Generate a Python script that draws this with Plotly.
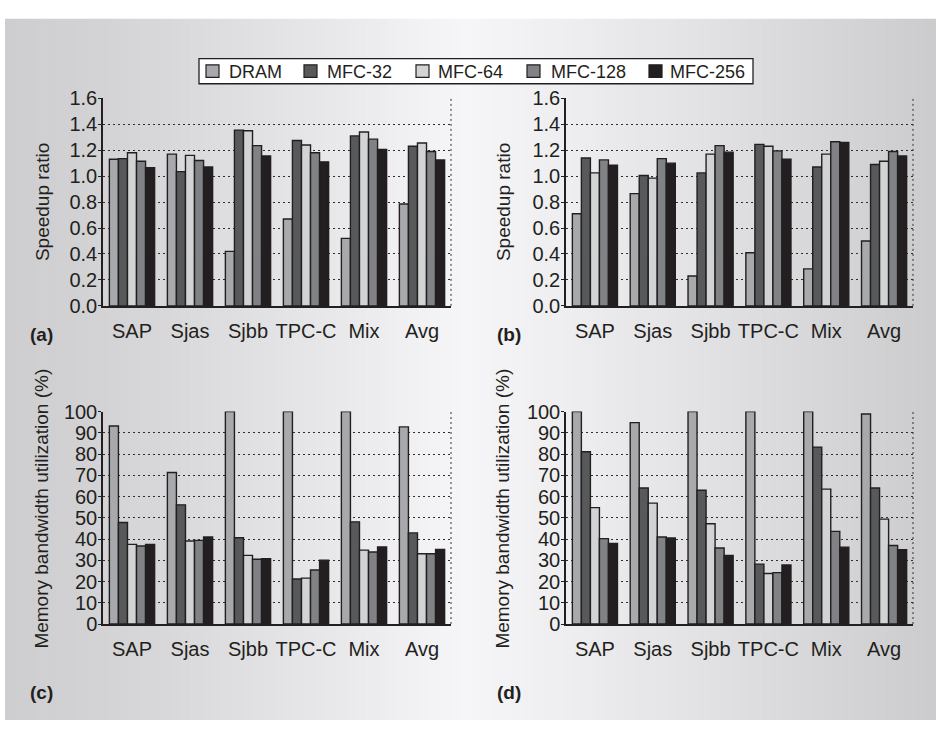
import plotly.graph_objects as go

W, H = 936, 733

categories = ["SAP", "Sjas", "Sjbb", "TPC-C", "Mix", "Avg"]
series_names = ["DRAM", "MFC-32", "MFC-64", "MFC-128", "MFC-256"]

# (a) Speedup ratio
a_dram   = [1.13, 1.17, 0.42, 0.67, 0.52, 0.785]
a_mfc32  = [1.135, 1.035, 1.355, 1.275, 1.31, 1.23]
a_mfc64  = [1.18, 1.16, 1.35, 1.24, 1.34, 1.255]
a_mfc128 = [1.115, 1.12, 1.235, 1.18, 1.285, 1.19]
a_mfc256 = [1.065, 1.07, 1.155, 1.11, 1.205, 1.125]

# (b) Speedup ratio
b_dram   = [0.71, 0.865, 0.23, 0.41, 0.285, 0.50]
b_mfc32  = [1.14, 1.005, 1.025, 1.245, 1.07, 1.09]
b_mfc64  = [1.025, 0.985, 1.17, 1.23, 1.17, 1.115]
b_mfc128 = [1.125, 1.135, 1.235, 1.195, 1.265, 1.19]
b_mfc256 = [1.085, 1.10, 1.185, 1.13, 1.26, 1.155]

# (c) Memory bandwidth utilization (%)
c_dram   = [93.2, 71.3, 100, 100, 100, 92.8]
c_mfc32  = [47.8, 56.1, 40.6, 21.2, 48.1, 42.9]
c_mfc64  = [37.5, 39.1, 32.3, 21.6, 34.8, 33.1]
c_mfc128 = [36.7, 39.4, 30.5, 25.4, 33.9, 33.1]
c_mfc256 = [37.5, 41.0, 30.7, 30.1, 36.3, 35.1]

# (d) Memory bandwidth utilization (%)
d_dram   = [100, 94.8, 100, 100, 100, 98.9]
d_mfc32  = [81.1, 64.0, 63.0, 28.2, 83.3, 64.0]
d_mfc64  = [54.8, 56.9, 47.2, 23.8, 63.5, 49.4]
d_mfc128 = [40.2, 41.0, 35.8, 24.2, 43.6, 37.0]
d_mfc256 = [37.9, 40.5, 32.3, 27.8, 36.2, 35.0]

colors = ["#a7a9ac", "#58595b", "#d1d3d4", "#808285", "#231f20"]
edge = "#231f20"
FONT = "Liberation Sans, Arial, sans-serif"

panels = [
    ([a_dram, a_mfc32, a_mfc64, a_mfc128, a_mfc256], "x", "y"),
    ([b_dram, b_mfc32, b_mfc64, b_mfc128, b_mfc256], "x2", "y2"),
    ([c_dram, c_mfc32, c_mfc64, c_mfc128, c_mfc256], "x3", "y3"),
    ([d_dram, d_mfc32, d_mfc64, d_mfc128, d_mfc256], "x4", "y4"),
]

def px(x):
    return x / W

def py(y):
    return 1 - y / H

fig = go.Figure()
for pi, (vals, xa, ya) in enumerate(panels):
    for si, name in enumerate(series_names):
        fig.add_trace(go.Bar(
            x=categories, y=vals[si], name=name, xaxis=xa, yaxis=ya,
            marker=dict(color=colors[si], line=dict(color=edge, width=1.4)),
            legendgroup=name, showlegend=False,
        ))

# geometry (pixels)
XL = (103, 451)
XR = (566, 913)
YT = (90, 304)
YB = (413, 632)

def xdom(r):
    return [px(r[0]), px(r[1])]

def ydom(r):
    return [py(r[1]), py(r[0])]

tickfont = dict(family=FONT, size=20, color=edge)
common_x = dict(showline=True, linecolor=edge, linewidth=1.5, showgrid=False,
                ticks="outside", ticklen=6, tickcolor="rgba(0,0,0,0)",
                tickfont=tickfont, fixedrange=True)
common_y = dict(showline=True, linecolor=edge, linewidth=1.5, showgrid=True,
                gridcolor="#2e2e2e", gridwidth=1, griddash="2px,3px",
                ticks="outside", ticklen=3, tickcolor=edge, tickwidth=1,
                ticklabelstandoff=-3,
                tickfont=tickfont, zeroline=False, fixedrange=True)

layout = dict(
    width=W, height=H, margin=dict(l=0, r=0, t=0, b=0),
    paper_bgcolor="white", plot_bgcolor="white",
    barmode="group", bargap=0.22, bargroupgap=0,
    font=dict(family=FONT, color=edge),
    showlegend=False,
    xaxis=dict(domain=xdom(XL), anchor="y", **common_x),
    yaxis=dict(domain=ydom(YT), anchor="x", range=[0, 1.6], tickvals=[0, 0.2, 0.4, 0.6, 0.8, 1.0, 1.2, 1.4, 1.6],
               tickformat=".1f", **common_y),
    xaxis2=dict(domain=xdom(XR), anchor="y2", **common_x),
    yaxis2=dict(domain=ydom(YT), anchor="x2", range=[0, 1.6], tickvals=[0, 0.2, 0.4, 0.6, 0.8, 1.0, 1.2, 1.4, 1.6],
                tickformat=".1f", **common_y),
    xaxis3=dict(domain=xdom(XL), anchor="y3", **common_x),
    yaxis3=dict(domain=ydom(YB), anchor="x3", range=[0, 100], dtick=10, **common_y),
    xaxis4=dict(domain=xdom(XR), anchor="y4", **common_x),
    yaxis4=dict(domain=ydom(YB), anchor="x4", range=[0, 100], dtick=10, **common_y),
)

shapes = []
# background gradient (horizontal)
N = 90
x0, x1 = 5, W
for i in range(N):
    xa = x0 + (x1 - x0) * i / N
    xb = x0 + (x1 - x0) * (i + 1) / N + 0.6
    t = (xa + xb) / 2
    if t < 460:
        f = (t - 5) / (460 - 5)
        v = 206 + (246 - 206) * (f ** 1.3)
    else:
        f = (t - 460) / (W - 460)
        v = 246 - (246 - 204) * (f ** 1.1)
    v = int(round(v))
    shapes.append(dict(type="rect", xref="paper", yref="paper",
                       x0=px(xa), x1=px(min(xb, W)), y0=py(731), y1=py(8),
                       fillcolor=f"rgb({v},{v},{v+2})", line=dict(width=0), layer="below"))
# dotted right borders
for xr, yr in [(XL, YT), (XR, YT), (XL, YB), (XR, YB)]:
    shapes.append(dict(type="line", xref="paper", yref="paper",
                       x0=px(xr[1]), x1=px(xr[1]), y0=py(yr[1]), y1=py(yr[0]),
                       line=dict(color="#2e2e2e", width=1, dash="2px,3px")))

# legend box (drawn manually for exact placement)
LEG_BOX = (199, 753, 49, 75)
LEG_SQ_X = [206, 304, 416, 527, 649]
LEG_TXT_X = [227, 325, 436, 549, 668]
shapes.append(dict(type="rect", xref="paper", yref="paper",
                   x0=px(LEG_BOX[0]), x1=px(LEG_BOX[1]), y0=py(LEG_BOX[3]), y1=py(LEG_BOX[2]),
                   fillcolor="white", line=dict(color=edge, width=1.3)))
ann = []
ymid = (LEG_BOX[2] + LEG_BOX[3]) / 2
for si, name in enumerate(series_names):
    sx = LEG_SQ_X[si]
    shapes.append(dict(type="rect", xref="paper", yref="paper",
                       x0=px(sx), x1=px(sx + 13), y0=py(ymid + 6.5), y1=py(ymid - 6.5),
                       fillcolor=colors[si], line=dict(color=edge, width=1.2)))
    ann.append(dict(x=px(LEG_TXT_X[si]), y=py(ymid + 0.5), xref="paper", yref="paper", text=name,
                    showarrow=False, xanchor="left", yanchor="middle",
                    font=dict(family=FONT, size=18, color=edge)))
layout["shapes"] = shapes

titlefont = dict(family=FONT, size=19, color=edge)
for (xc, yc, txt) in [(42, 197, "Speedup ratio"), (503, 197, "Speedup ratio"),
                      (42, 513, "Memory bandwidth utilization (%)"),
                      (503, 513, "Memory bandwidth utilization (%)")]:
    ann.append(dict(x=px(xc), y=py(yc), xref="paper", yref="paper", text=txt,
                    textangle=-90, showarrow=False, xanchor="center", yanchor="middle",
                    font=titlefont))
labfont = dict(family=FONT, size=19, color=edge)
for (xl, yc, txt) in [(28, 333, "(a)"), (495, 333, "(b)"), (28, 703, "(c)"), (495, 703, "(d)")]:
    ann.append(dict(x=px(xl), y=py(yc), xref="paper", yref="paper", text=f"<b>{txt}</b>",
                    showarrow=False, xanchor="left", yanchor="middle", font=labfont))
layout["annotations"] = ann

fig.update_layout(**layout)
fig.write_html("out.html")
